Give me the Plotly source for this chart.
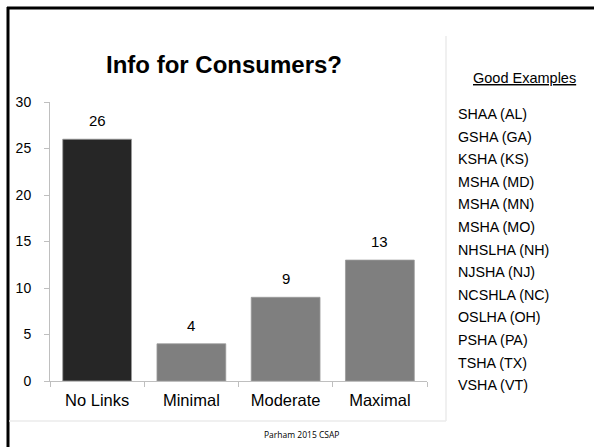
import plotly.graph_objects as go

# ---- data ----
categories = ["No Links", "Minimal", "Moderate", "Maximal"]
values = [26, 4, 9, 13]
y_ticks = [0, 5, 10, 15, 20, 25, 30]
title_text = "Info for Consumers?"
examples_title = "Good Examples"
examples = ["SHAA (AL)", "GSHA (GA)", "KSHA (KS)", "MSHA (MD)", "MSHA (MN)",
            "MSHA (MO)", "NHSLHA (NH)", "NJSHA (NJ)", "NCSHLA (NC)", "OSLHA (OH)",
            "PSHA (PA)", "TSHA (TX)", "VSHA (VT)"]
footer = "Parham 2015 CSAP"

W, H = 594, 447
def px(x):
    return x / W
def py(y):
    return 1 - y / H

bar_colors = ["#262626", "#7f7f7f", "#7f7f7f", "#7f7f7f"]
FONT = "Liberation Sans, Arial, sans-serif"

fig = go.Figure()
fig.add_trace(go.Bar(
    x=categories, y=values,
    marker=dict(color=bar_colors, line=dict(color="#9a9a9a", width=0.8)),
    cliponaxis=False, width=0.73, hoverinfo="x+y",
))

shapes = [
    # slide frame
    dict(type="line", xref="paper", yref="paper", x0=px(7), x1=px(594), y0=py(8), y1=py(8),
         line=dict(color="#000", width=3)),
    dict(type="line", xref="paper", yref="paper", x0=px(8), x1=px(8), y0=py(7), y1=py(447),
         line=dict(color="#000", width=3)),
    # chart panel edges
    dict(type="line", xref="paper", yref="paper", x0=px(446), x1=px(446), y0=py(36), y1=py(421),
         line=dict(color="#ebebeb", width=1.5)),
    dict(type="line", xref="paper", yref="paper", x0=px(9), x1=px(446), y0=py(421), y1=py(421),
         line=dict(color="#ebebeb", width=1.5)),
]

annotations = [
    dict(text="<b>" + title_text + "</b>", x=px(224), y=py(65), xref="paper", yref="paper",
         showarrow=False, xanchor="center", yanchor="middle",
         font=dict(family=FONT, size=24, color="#000")),
    dict(text="<u>" + examples_title + "</u>", x=px(524), y=py(78), xref="paper", yref="paper",
         showarrow=False, xanchor="center", yanchor="middle",
         font=dict(family=FONT, size=14.5, color="#000")),
    dict(text=footer, x=px(301), y=py(434), xref="paper", yref="paper",
         showarrow=False, xanchor="center", yanchor="middle",
         font=dict(family="Open Sans, sans-serif", size=8.5, color="#000")),
]
for i, name in enumerate(examples):
    annotations.append(dict(text=name, x=px(456), y=py(114 + i * 22.6), xref="paper", yref="paper",
                            showarrow=False, xanchor="left", yanchor="middle",
                            font=dict(family=FONT, size=14.3, color="#000")))
# value labels above bars
for c, v in zip(categories, values):
    annotations.append(dict(text=str(v), x=c, y=v, xref="x", yref="y",
                            showarrow=False, xanchor="center", yanchor="bottom", yshift=8,
                            font=dict(family=FONT, size=15, color="#000")))

fig.update_layout(
    width=W, height=H, margin=dict(l=0, r=0, t=0, b=0, autoexpand=False),
    paper_bgcolor="#fff", plot_bgcolor="#fff", showlegend=False,
    bargap=0.27,
    xaxis=dict(domain=[px(50), px(427)], showline=True, linecolor="#bfbfbf", linewidth=1,
               ticks="outside", tickson="boundaries", ticklen=5, tickcolor="#bfbfbf",
               ticklabelstandoff=4,
               tickfont=dict(family=FONT, size=16.5, color="#000"), showgrid=False,
               fixedrange=True, automargin=False),
    yaxis=dict(domain=[py(381), py(102)], range=[0, 30], tickvals=y_ticks,
               showline=True, linecolor="#bfbfbf", linewidth=1,
               ticks="outside", ticklen=5, tickcolor="#bfbfbf",
               ticklabelstandoff=10,
               tickfont=dict(family=FONT, size=14, color="#000"), showgrid=False,
               zeroline=False, fixedrange=True, automargin=False),
    shapes=shapes, annotations=annotations,
)

fig.write_html("out.html", config={"displayModeBar": False},
               post_script="document.body.style.margin='0';document.body.style.overflow='hidden';")
